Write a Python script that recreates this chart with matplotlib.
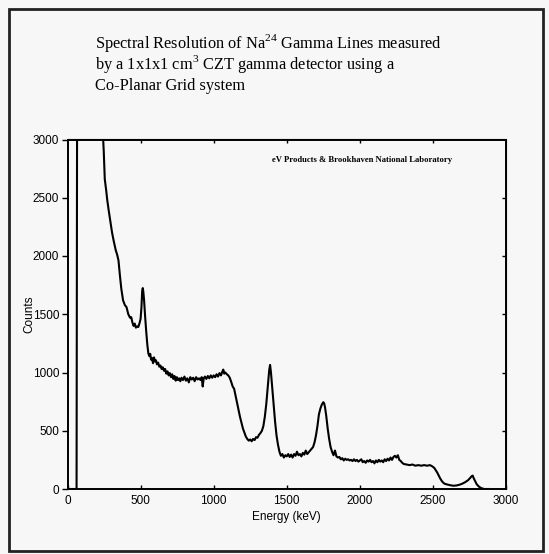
import matplotlib
matplotlib.use("Agg")
from matplotlib import pyplot as plt
from matplotlib.patches import Rectangle

# Fonts: serif title like the typed page, sans for the axes
plt.rcParams['font.family'] = 'Liberation Sans'
plt.rcParams['mathtext.fontset'] = 'custom'
plt.rcParams['mathtext.rm'] = 'Liberation Serif'

# Na-24 spectrum (energy in keV, counts)
energy = [0, 40, 62, 66, 120, 200, 240, 248, 255, 265, 272, 282, 295, 305, 316,
          330, 340, 349, 358, 368, 380, 392, 404, 416, 428, 436, 444, 452, 460,
          468, 476, 484, 492, 500, 506, 511, 515, 519, 524, 530, 538, 546, 553,
          560, 566, 572, 578, 585, 592, 598, 605, 612, 620, 628, 636, 644, 652,
          660, 668, 676, 684, 692, 700, 708, 716, 724, 732, 740, 748, 756, 764,
          772, 780, 790, 800, 810, 820, 830, 840, 850, 860, 870, 880, 890, 900,
          910, 918, 925, 932, 940, 950, 960, 970, 980, 990, 1000, 1010, 1020,
          1030, 1040, 1050, 1060, 1066, 1072, 1080, 1090, 1100, 1110, 1120, 1130,
          1140, 1150, 1160, 1170, 1180, 1190, 1200, 1210, 1220, 1230, 1240, 1250,
          1260, 1270, 1280, 1290, 1300, 1310, 1320, 1330, 1340, 1350, 1360, 1370,
          1380, 1386, 1392, 1400, 1410, 1420, 1430, 1440, 1450, 1460, 1470, 1480,
          1490, 1500, 1510, 1520, 1530, 1540, 1550, 1560, 1570, 1580, 1590, 1600,
          1610, 1620, 1630, 1640, 1650, 1660, 1670, 1680, 1690, 1700, 1710, 1720,
          1730, 1740, 1750, 1756, 1762, 1770, 1780, 1790, 1800, 1810, 1820, 1830,
          1840, 1850, 1860, 1870, 1880, 1890, 1900, 1910, 1920, 1930, 1940, 1950,
          1960, 1970, 1980, 1990, 2000, 2010, 2020, 2030, 2040, 2050, 2060, 2070,
          2080, 2090, 2100, 2110, 2120, 2130, 2140, 2150, 2160, 2170, 2180, 2190,
          2200, 2210, 2220, 2230, 2240, 2250, 2260, 2270, 2280, 2290, 2300, 2320,
          2340, 2360, 2380, 2400, 2420, 2440, 2460, 2480, 2495, 2510, 2520, 2530,
          2540, 2550, 2560, 2570, 2580, 2600, 2620, 2640, 2660, 2680, 2700, 2720,
          2740, 2755, 2765, 2772, 2780, 2790, 2800, 2815, 2830, 2850, 2880]
counts = [0, 0, 0, 3600, 4500, 3800, 3100, 2900, 2660, 2560, 2480, 2390, 2280, 2200, 2130,
          2050, 2010, 1960, 1840, 1720, 1620, 1580, 1560, 1500, 1470, 1475, 1430, 1400, 1420,
          1385, 1395, 1390, 1420, 1460, 1560, 1700, 1725, 1690, 1620, 1500, 1360, 1240, 1165,
          1140, 1160, 1110, 1125, 1080, 1130, 1095, 1105, 1070, 1085, 1050, 1060, 1030, 1045,
          1015, 1030, 990, 1010, 975, 995, 960, 985, 945, 970, 930, 960, 935, 950,
          925, 955, 935, 965, 930, 950, 915, 960, 940, 955, 925, 960, 940, 950,
          935, 960, 880, 950, 965, 945, 970, 950, 975, 955, 975, 960, 985,
          965, 995, 975, 1010, 1025, 990, 1000, 985, 975, 955, 920, 880,
          860, 800, 740, 680, 620, 570, 520, 485, 450, 430, 415, 425,
          410, 430, 420, 445, 440, 465, 480, 500, 540, 620, 730, 880,
          1020, 1065, 1000, 880, 720, 580, 460, 380, 320, 285, 300, 270,
          290, 280, 300, 275, 295, 270, 300, 285, 320, 290, 300, 280,
          310, 295, 330, 300, 315, 330, 345, 360, 400, 460, 540, 640,
          690, 725, 745, 735, 700, 630, 520, 430, 360, 320, 290, 330,
          280, 270, 275, 255, 265, 245, 260, 250, 255, 245, 250, 240,
          255, 240, 250, 235, 245, 255, 230, 240, 225, 245, 235, 250,
          230, 240, 220, 245, 230, 250, 235, 245, 230, 255, 240, 260,
          245, 270, 250, 275, 285, 270, 290, 250, 240, 225, 215, 210,
          205, 210, 200, 205, 200, 205, 200, 205, 195, 180, 160, 140,
          115, 90, 70, 55, 45, 38, 32, 28, 30, 36, 45, 58,
          75, 95, 110, 115, 90, 65, 40, 20, 8, 0, 0]

x_ticks = [0, 500, 1000, 1500, 2000, 2500, 3000]
y_ticks = [0, 500, 1000, 1500, 2000, 2500, 3000]

title_lines = [r'Spectral Resolution of Na$^{\mathrm{24}}$ Gamma Lines measured',
               r'by a 1x1x1 cm$^{\mathrm{3}}$ CZT gamma detector using a',
               'Co-Planar Grid system']
credit = 'eV Products & Brookhaven National Laboratory'

bg = '#f7f7f7'
W, H = 549, 554
fig = plt.figure(figsize=(W / 100, H / 100), dpi=100, facecolor=bg)

# page frame around everything
fig.patches.append(Rectangle((9 / W, 1 - 551 / H), (543 - 9) / W, (551 - 9) / H,
                             transform=fig.transFigure, fill=False, lw=2, ec='#222222'))

# title block, left aligned like the typed caption
for i, line in enumerate(title_lines):
    fig.text(95 / W, 1 - (48 + i * 21) / H, line, family='Liberation Serif',
             fontsize=11.8, ha='left', va='baseline')

ax = fig.add_axes([67.5 / W, 1 - 489 / H, (506 - 67.5) / W, (489 - 139.5) / H])
ax.set_facecolor(bg)
ax.plot(energy, counts, color='black', lw=1.5)
ax.set_xlim(0, 3000)
ax.set_ylim(0, 3000)

ax.set_xticks(x_ticks)
ax.set_yticks(y_ticks)
ax.tick_params(axis='x', direction='in', length=3, width=1, labelsize=8.5, pad=4)
ax.tick_params(axis='y', direction='out', length=4, width=1, labelsize=8.5, pad=2)
for s in ax.spines.values():
    s.set_linewidth(1.4)

# ticks on the top and right sides point inward, without labels
top = ax.secondary_xaxis('top')
top.set_xticks(x_ticks[1:-1])
top.tick_params(direction='in', length=3, width=1, labeltop=False)
right = ax.secondary_yaxis('right')
right.set_yticks(y_ticks[1:-1])
right.tick_params(direction='in', length=3, width=1, labelright=False)

ax.set_xlabel('Energy (keV)', fontsize=8.5, labelpad=3)
ax.set_ylabel('Counts', fontsize=8.5)
ax.yaxis.set_label_coords(-0.074, 0.5)

ax.text(0.672, 0.941, credit, transform=ax.transAxes, family='Liberation Serif',
        fontsize=6.2, fontweight='bold', ha='center', va='center')

fig.savefig('out.png', dpi=100, facecolor=bg)
